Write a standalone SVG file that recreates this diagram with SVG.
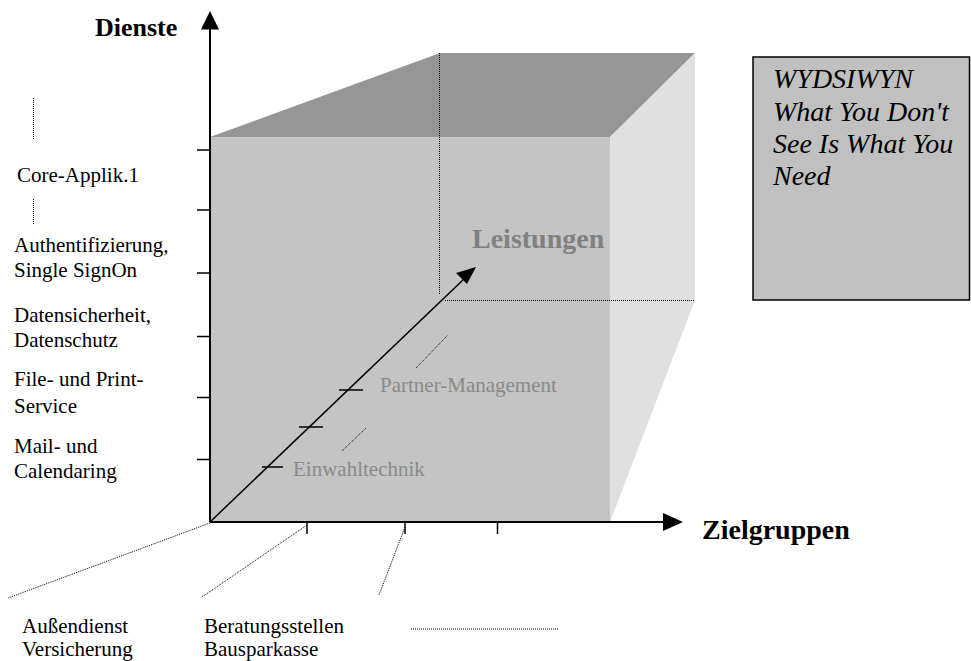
<svg xmlns="http://www.w3.org/2000/svg" width="971" height="661" viewBox="0 0 971 661">
<defs>
<style>
text{font-family:"Liberation Serif","Times New Roman",serif;}
.lbl{font-size:21px;fill:#000;}
.gray{font-size:21px;fill:#8a8a8a;}
.title{font-weight:bold;fill:#000;}
.ax{stroke:#000;stroke-width:2;fill:none;}
.tick{stroke:#000;stroke-width:1.5;}
.dot{stroke:#000;stroke-width:1;stroke-dasharray:1 1;fill:none;}
.note{font-size:28px;font-style:italic;fill:#000;}
</style>
</defs>
<rect width="971" height="661" fill="#fff"/>
<g id="cube">
<polygon points="210,137 440,53 695,53 610,137" fill="#969696"/>
<polygon points="610,137 695,53 695,300 610,522" fill="#e0e0e0"/>
<rect x="210" y="137" width="400" height="385" fill="#c4c4c4"/>
<line class="dot" x1="439.5" y1="53" x2="439.5" y2="295"/>
<line class="dot" x1="445" y1="300.5" x2="695" y2="300.5"/>
</g>
<g id="connectors">
<line class="ax" x1="210" y1="522" x2="210" y2="28"/>
<polygon points="210,11 201,29.5 219,29.5" fill="#000"/>
<line class="ax" x1="210" y1="522" x2="665" y2="522"/>
<polygon points="683,522 663,513 663,531" fill="#000"/>
<line x1="210" y1="522" x2="465" y2="278" stroke="#000" stroke-width="1.5"/>
<polygon points="476,267 456,273 467,284" fill="#000"/>
<line class="tick" x1="197" y1="150" x2="210" y2="150"/>
<line class="tick" x1="197" y1="210" x2="210" y2="210"/>
<line class="tick" x1="197" y1="273" x2="210" y2="273"/>
<line class="tick" x1="197" y1="336.5" x2="210" y2="336.5"/>
<line class="tick" x1="197" y1="397.5" x2="210" y2="397.5"/>
<line class="tick" x1="197" y1="459.5" x2="210" y2="459.5"/>
<line class="tick" x1="307" y1="522" x2="307" y2="534"/>
<line class="tick" x1="405" y1="522" x2="405" y2="534"/>
<line class="tick" x1="497.5" y1="522" x2="497.5" y2="534"/>
<line class="tick" x1="262" y1="467" x2="283" y2="467"/>
<line class="tick" x1="299" y1="427" x2="323" y2="427"/>
<line class="tick" x1="339" y1="390" x2="363" y2="390"/>
<line class="dot" x1="342" y1="451" x2="366" y2="428"/>
<line class="dot" x1="416" y1="368" x2="448" y2="335"/>
<line class="dot" x1="33.5" y1="98" x2="33.5" y2="140"/>
<line class="dot" x1="33.5" y1="199" x2="33.5" y2="224"/>
<line class="dot" x1="210" y1="523" x2="8" y2="598"/>
<line class="dot" x1="307" y1="525" x2="202" y2="597"/>
<line class="dot" x1="405" y1="527" x2="379" y2="595"/>
<line class="dot" x1="411" y1="629" x2="558" y2="629"/>
</g>
<g id="axis-labels">
<text class="title" x="95" y="36" font-size="26">Dienste</text>
<text class="title" x="702" y="539" font-size="28">Zielgruppen</text>
<text x="472" y="248" font-size="28" font-weight="bold" fill="#808080">Leistungen</text>
<text class="gray" x="380" y="392">Partner-Management</text>
<text class="gray" x="293" y="476">Einwahltechnik</text>
</g>
<g id="services">
<text class="lbl" x="17" y="182">Core-Applik.1</text>
<text class="lbl" x="14" y="252">Authentifizierung,</text>
<text class="lbl" x="14" y="277">Single SignOn</text>
<text class="lbl" x="14" y="322">Datensicherheit,</text>
<text class="lbl" x="14" y="347">Datenschutz</text>
<text class="lbl" x="14" y="386">File- und Print-</text>
<text class="lbl" x="14" y="413">Service</text>
<text class="lbl" x="14" y="453">Mail- und</text>
<text class="lbl" x="14" y="478">Calendaring</text>
</g>
<g id="targets">
<text class="lbl" x="22" y="633">Außendienst</text>
<text class="lbl" x="22" y="656">Versicherung</text>
<text class="lbl" x="204" y="633">Beratungsstellen</text>
<text class="lbl" x="204" y="656">Bausparkasse</text>
</g>
<g id="note">
<rect x="753" y="57" width="216.5" height="243" fill="#c0c0c0" stroke="#000" stroke-width="1.5"/>
<text class="note" x="773" y="88">WYDSIWYN</text>
<text class="note" x="773" y="121">What You Don't</text>
<text class="note" x="773" y="153">See Is What You</text>
<text class="note" x="773" y="185">Need</text>
</g>
</svg>
